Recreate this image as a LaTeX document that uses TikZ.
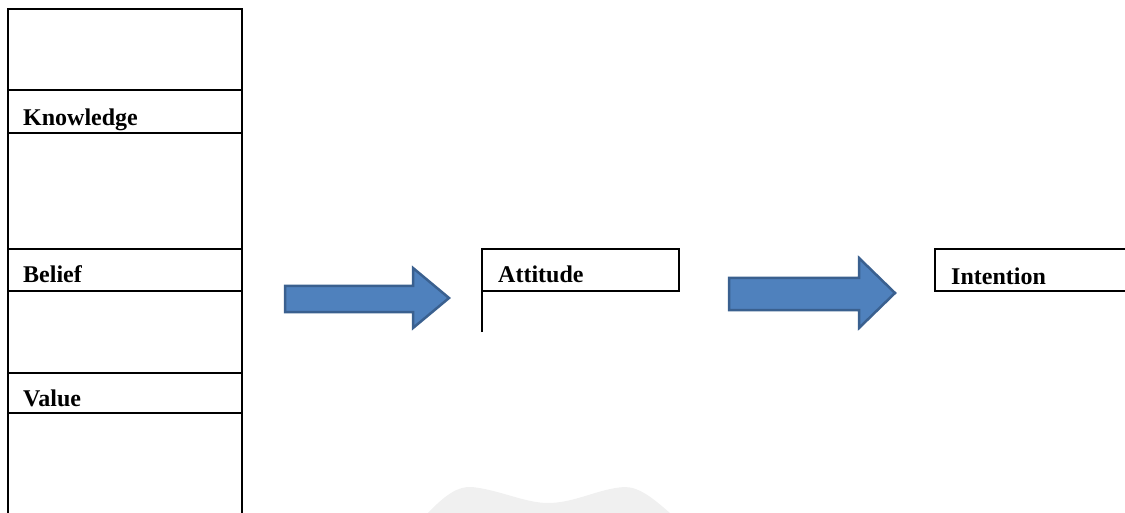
\documentclass[tikz,border=0pt]{standalone}
\usepackage{fontspec}
\setmainfont{Liberation Serif}
\begin{document}
\begin{tikzpicture}[x=1pt,y=-1pt,
  rule/.style={line width=2.8pt,black},
  lbl/.style={anchor=base west,inner sep=0pt,font=\fontsize{24}{28}\selectfont\bfseries},
  blockarrow/.style={fill={rgb,255:red,79;green,129;blue,189},draw={rgb,255:red,58;green,96;blue,143},line width=2.5pt,line join=miter}]
\useasboundingbox (0,0) rectangle (1125,513);
% watermark
\fill[gray!12] (428,513) .. controls (445,495) and (458,486) .. (472,487)
  .. controls (500,490) and (525,503) .. (548,503)
  .. controls (575,503) and (600,488) .. (625,487)
  .. controls (640,487) and (655,500) .. (670,513) -- cycle;
% left column
\draw[rule] (8,513) -- (8,9) -- (242,9) -- (242,513);
\foreach \yy in {90,133,249,291,373,413} \draw[rule] (8,\yy) -- (242,\yy);
\node[lbl] (know) at (23,126) {Knowledge};
\node[lbl] (belief) at (23,283) {Belief};
\node[lbl] (value) at (23,406) {Value};
% attitude box
\draw[rule] (482,332) -- (482,249) -- (679,249) -- (679,291) -- (482,291);
\node[lbl] (att) at (498,283) {Attitude};
% intention box
\draw[rule] (1125,249) -- (935,249) -- (935,291) -- (1125,291);
\node[lbl] (int) at (951,284) {Intention};
% block arrows
\filldraw[blockarrow] (285,286) -- (413,286) -- (413,268) -- (449,298) -- (413,328) -- (413,312) -- (285,312) -- cycle;
\filldraw[blockarrow] (729,278) -- (859,278) -- (859,258) -- (895,293) -- (859,328) -- (859,310) -- (729,310) -- cycle;
\end{tikzpicture}
\end{document}
